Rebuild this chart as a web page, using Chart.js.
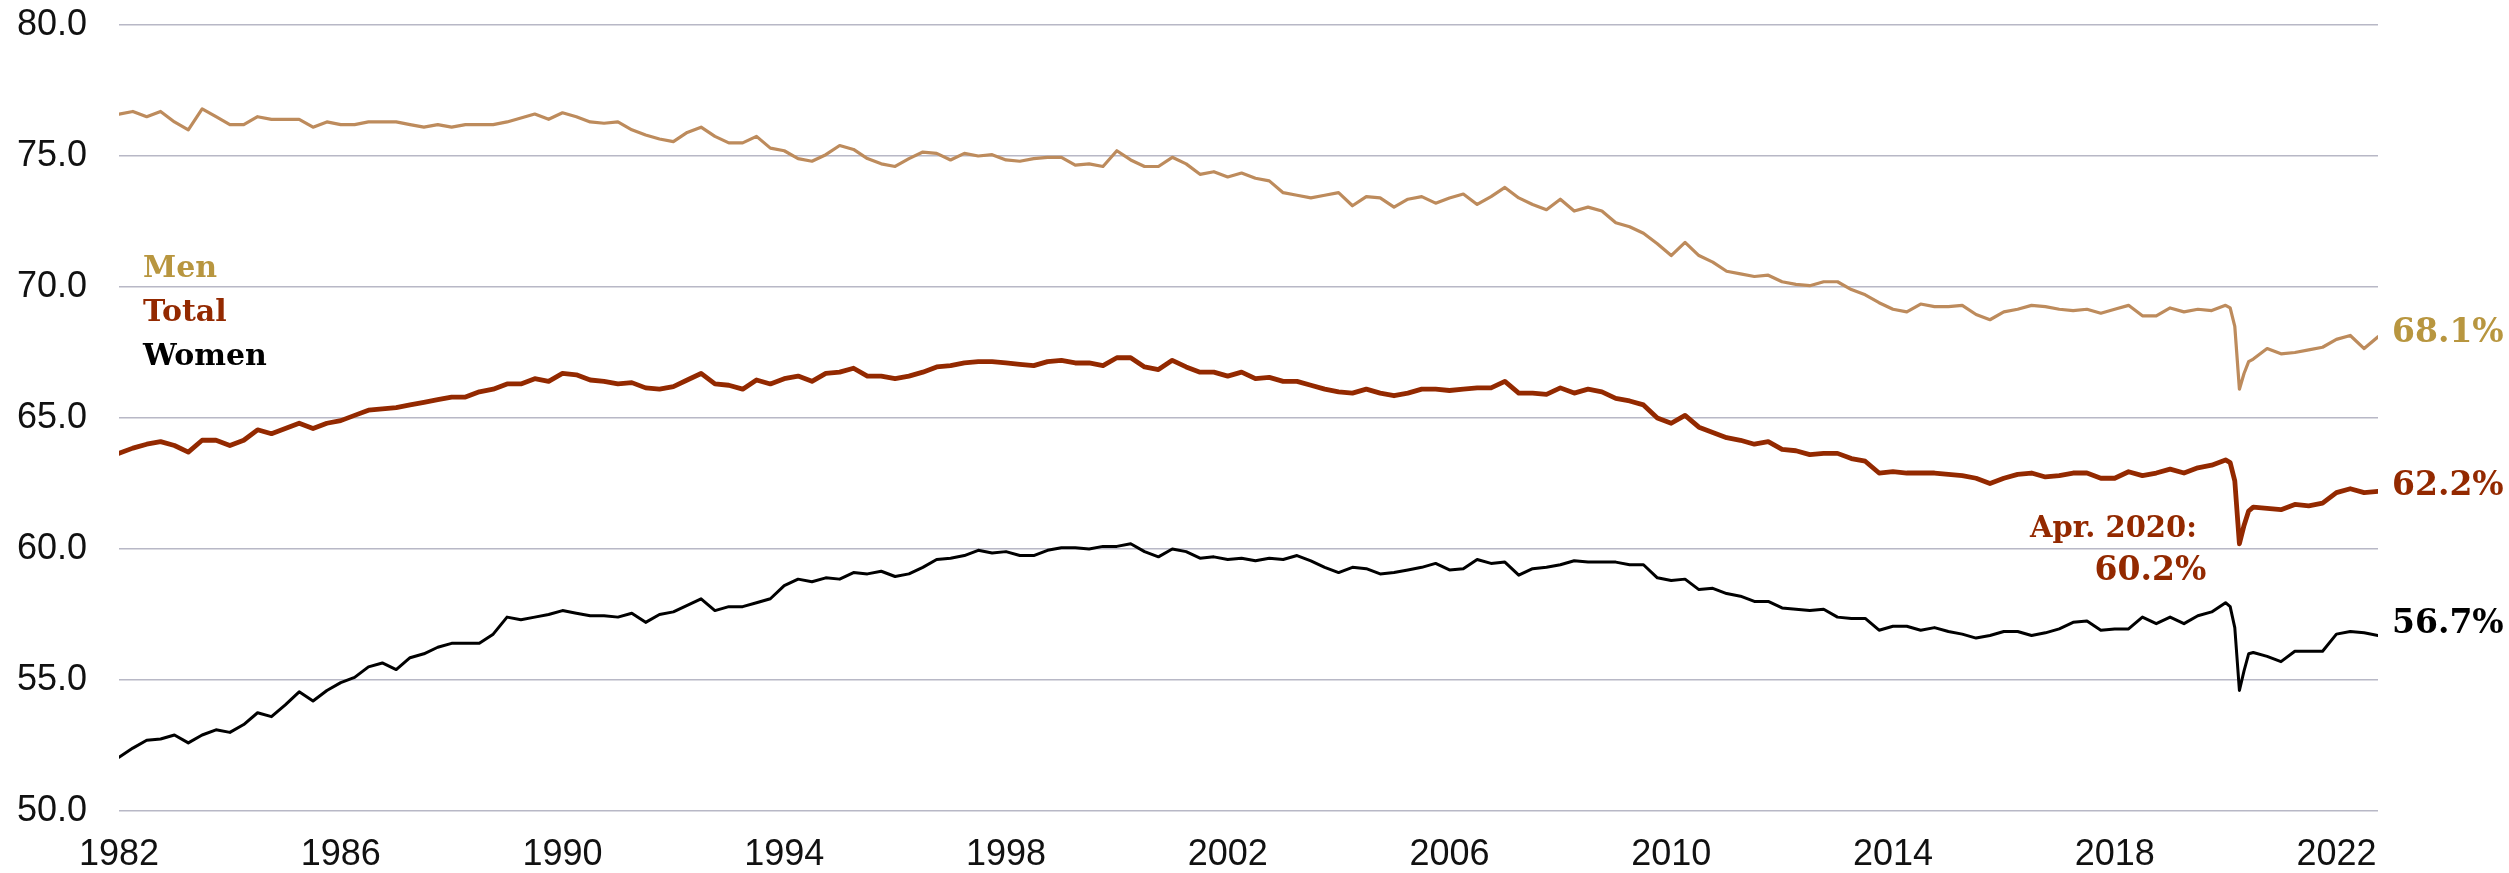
<!DOCTYPE html>
<html>
<head>
<meta charset="utf-8">
<script src="https://cdn.jsdelivr.net/npm/chart.js@4.4.1/dist/chart.umd.min.js"></script>
<style>
  html, body { margin: 0; padding: 0; background: #fff; }
  #wrap { width: 2509px; height: 873px; }
</style>
</head>
<body>
<div id="wrap"><canvas id="chart1" width="2509" height="873"></canvas></div>
<script>
'use strict';

// month index counted from Jan 1982 (0 = Jan 1982)
var monthIdx = [
  0, 3, 6, 9, 12, 15, 18, 21, 24, 27, 30, 33, 36, 39, 42, 45, 48, 51, 54, 57, 60, 63, 66, 69, 72, 75, 78, 81, 84,
  87, 90, 93, 96, 99, 102, 105, 108, 111, 114, 117, 120, 123, 126, 129, 132, 135, 138, 141, 144, 147, 150, 153, 156, 159, 162, 165, 168,
  171, 174, 177, 180, 183, 186, 189, 192, 195, 198, 201, 204, 207, 210, 213, 216, 219, 222, 225, 228, 231, 234, 237, 240, 243, 246, 249, 252,
  255, 258, 261, 264, 267, 270, 273, 276, 279, 282, 285, 288, 291, 294, 297, 300, 303, 306, 309, 312, 315, 318, 321, 324, 327, 330, 333,
  336, 339, 342, 345, 348, 351, 354, 357, 360, 363, 366, 369, 372, 375, 378, 381, 384, 387, 390, 393, 396, 399, 402, 405, 408, 411, 414,
  417, 420, 423, 426, 429, 432, 435, 438, 441, 444, 447, 450, 453, 456,
  457, 458, 459, 460, 461, 462, 465, 468, 471, 474, 477, 480, 483, 486, 489
];

var menRate = [
  76.6, 76.7, 76.5, 76.7, 76.3, 76.0, 76.8, 76.5, 76.2, 76.2, 76.5, 76.4, 76.4, 76.4, 76.1, 76.3, 76.2, 76.2, 76.3, 76.3, 76.3, 76.2, 76.1, 76.2, 76.1, 76.2, 76.2, 76.2, 76.3,
  76.45, 76.6, 76.4, 76.65, 76.5, 76.3, 76.25, 76.3, 76.0, 75.8, 75.65, 75.55, 75.9, 76.1, 75.75, 75.5, 75.5, 75.75, 75.3, 75.2, 74.9, 74.8, 75.05, 75.4, 75.25, 74.9, 74.7, 74.6,
  74.9, 75.15, 75.1, 74.85, 75.1, 75.0, 75.05, 74.85, 74.8, 74.9, 74.95, 74.95, 74.65, 74.7, 74.6, 75.2, 74.85, 74.6, 74.6, 74.95, 74.7, 74.3, 74.4, 74.2, 74.35, 74.15, 74.05, 73.6,
  73.5, 73.4, 73.5, 73.6, 73.1, 73.45, 73.4, 73.05, 73.35, 73.45, 73.2, 73.4, 73.55, 73.15, 73.45, 73.8, 73.4, 73.15, 72.95, 73.35, 72.9, 73.05, 72.9, 72.45, 72.3, 72.05, 71.65,
  71.2, 71.7, 71.2, 70.95, 70.6, 70.5, 70.4, 70.45, 70.2, 70.1, 70.05, 70.2, 70.2, 69.9, 69.7, 69.4, 69.15, 69.05, 69.35, 69.25, 69.25, 69.3, 68.95, 68.75, 69.05, 69.15, 69.3,
  69.25, 69.15, 69.1, 69.15, 69.0, 69.15, 69.3, 68.9, 68.9, 69.2, 69.05, 69.15, 69.1, 69.3,
  69.2, 68.5, 66.1, 66.7, 67.15, 67.25, 67.65, 67.45, 67.5, 67.6, 67.7, 68.0, 68.15, 67.65, 68.1
];

var totalRate = [
  63.65, 63.85, 64.0, 64.1, 63.95, 63.7, 64.15, 64.15, 63.95, 64.15, 64.55, 64.4, 64.6, 64.8, 64.6, 64.8, 64.9, 65.1, 65.3, 65.35, 65.4, 65.5, 65.6, 65.7, 65.8, 65.8, 66.0, 66.1, 66.3,
  66.3, 66.5, 66.4, 66.7, 66.65, 66.45, 66.4, 66.3, 66.35, 66.15, 66.1, 66.2, 66.45, 66.7, 66.3, 66.25, 66.1, 66.45, 66.3, 66.5, 66.6, 66.4, 66.7, 66.75, 66.9, 66.6, 66.6, 66.5,
  66.6, 66.75, 66.95, 67.0, 67.1, 67.15, 67.15, 67.1, 67.05, 67.0, 67.15, 67.2, 67.1, 67.1, 67.0, 67.3, 67.3, 66.95, 66.85, 67.2, 66.95, 66.75, 66.75, 66.6, 66.75, 66.5, 66.55, 66.4,
  66.4, 66.25, 66.1, 66.0, 65.95, 66.1, 65.95, 65.85, 65.95, 66.1, 66.1, 66.05, 66.1, 66.15, 66.15, 66.4, 65.95, 65.95, 65.9, 66.15, 65.95, 66.1, 66.0, 65.75, 65.65, 65.5, 65.0,
  64.8, 65.1, 64.65, 64.45, 64.25, 64.15, 64.0, 64.1, 63.8, 63.75, 63.6, 63.65, 63.65, 63.45, 63.35, 62.9, 62.95, 62.9, 62.9, 62.9, 62.85, 62.8, 62.7, 62.5, 62.7, 62.85, 62.9,
  62.75, 62.8, 62.9, 62.9, 62.7, 62.7, 62.95, 62.8, 62.9, 63.05, 62.9, 63.1, 63.2, 63.4,
  63.3, 62.6, 60.2, 60.9, 61.45, 61.6, 61.55, 61.5, 61.7, 61.65, 61.75, 62.15, 62.3, 62.15, 62.2
];

var womenRate = [
  52.05, 52.4, 52.7, 52.75, 52.9, 52.6, 52.9, 53.1, 53.0, 53.3, 53.75, 53.6, 54.05, 54.55, 54.2, 54.6, 54.9, 55.1, 55.5, 55.65, 55.4, 55.85, 56.0, 56.25, 56.4, 56.4, 56.4, 56.75, 57.4,
  57.3, 57.4, 57.5, 57.65, 57.55, 57.45, 57.45, 57.4, 57.55, 57.2, 57.5, 57.6, 57.85, 58.1, 57.65, 57.8, 57.8, 57.95, 58.1, 58.6, 58.85, 58.75, 58.9, 58.85, 59.1, 59.05, 59.15, 58.95,
  59.05, 59.3, 59.6, 59.65, 59.75, 59.95, 59.85, 59.9, 59.75, 59.75, 59.95, 60.05, 60.05, 60.0, 60.1, 60.1, 60.2, 59.9, 59.7, 60.0, 59.9, 59.65, 59.7, 59.6, 59.65, 59.55, 59.65, 59.6,
  59.75, 59.55, 59.3, 59.1, 59.3, 59.25, 59.05, 59.1, 59.2, 59.3, 59.45, 59.2, 59.25, 59.6, 59.45, 59.5, 59.0, 59.25, 59.3, 59.4, 59.55, 59.5, 59.5, 59.5, 59.4, 59.4, 58.9,
  58.8, 58.85, 58.45, 58.5, 58.3, 58.2, 58.0, 58.0, 57.75, 57.7, 57.65, 57.7, 57.4, 57.35, 57.35, 56.9, 57.05, 57.05, 56.9, 57.0, 56.85, 56.75, 56.6, 56.7, 56.85, 56.85, 56.7,
  56.8, 56.95, 57.2, 57.25, 56.9, 56.95, 56.95, 57.4, 57.15, 57.4, 57.15, 57.45, 57.6, 57.95,
  57.8, 57.0, 54.6, 55.35, 56.0, 56.05, 55.9, 55.7, 56.1, 56.1, 56.1, 56.75, 56.85, 56.8, 56.7
];

var seriesNames = ['Men', 'Total', 'Women'];
var yTicks = [50, 55, 60, 65, 70, 75, 80];
var firstYear = 1982;
var yearStep = 4;
var lowPointMonth = 459; // Apr. 2020

var MEN_LINE = '#bd8b5c';
var MEN_TEXT = '#b8963f';
var TOTAL_COLOR = '#932900';
var WOMEN_COLOR = '#000000';
var SERIF = '"DejaVu Serif", "Liberation Serif", serif';
var SANS = '"Liberation Sans", Arial, sans-serif';

var toPoints = function(values) {
	return monthIdx.map(function(m, i) { return { x: m, y: values[i] }; });
};

var textPlugin = {
	id: 'textPlugin',
	afterDatasetsDraw: function(chart) {
		var ctx = chart.ctx;
		var xs = chart.scales.x;
		var ys = chart.scales.y;
		var area = chart.chartArea;
		var last = monthIdx.length - 1;
		ctx.save();
		ctx.textBaseline = 'middle';

		// legend on the left
		ctx.textAlign = 'left';
		ctx.font = 'bold 30px ' + SERIF;
		ctx.fillStyle = MEN_TEXT;
		ctx.fillText(seriesNames[0], 143, 269);
		ctx.fillStyle = TOTAL_COLOR;
		ctx.fillText(seriesNames[1], 143, 313);
		ctx.fillStyle = WOMEN_COLOR;
		ctx.fillText(seriesNames[2], 143, 357);

		// end of line labels
		ctx.font = 'bold 33px ' + SERIF;
		var lx = area.right + 14;
		ctx.fillStyle = MEN_TEXT;
		ctx.fillText(menRate[last].toFixed(1) + '%', lx, ys.getPixelForValue(menRate[last]) - 3);
		ctx.fillStyle = TOTAL_COLOR;
		ctx.fillText(totalRate[last].toFixed(1) + '%', lx, ys.getPixelForValue(totalRate[last]) - 5);
		ctx.fillStyle = WOMEN_COLOR;
		ctx.fillText(womenRate[last].toFixed(1) + '%', lx, ys.getPixelForValue(womenRate[last]) - 11);

		// Apr. 2020 note
		var li = monthIdx.indexOf(lowPointMonth);
		var px = xs.getPixelForValue(lowPointMonth);
		var py = ys.getPixelForValue(totalRate[li]);
		ctx.fillStyle = TOTAL_COLOR;
		ctx.textAlign = 'center';
		ctx.font = 'bold 29px ' + SERIF;
		ctx.fillText('Apr. 2020:', px - 126, py - 14);
		ctx.font = 'bold 33px ' + SERIF;
		ctx.fillText(totalRate[li].toFixed(1) + '%', px - 89, py + 28);
		ctx.restore();
	}
};

var ctx = document.getElementById('chart1').getContext('2d');
var chart = new Chart(ctx, {
	type: 'line',
	data: {
		datasets: [{
			label: seriesNames[0],
			data: toPoints(menRate),
			borderColor: MEN_LINE,
			borderWidth: 3.2
		}, {
			label: seriesNames[1],
			data: toPoints(totalRate),
			borderColor: TOTAL_COLOR,
			borderWidth: 4.8
		}, {
			label: seriesNames[2],
			data: toPoints(womenRate),
			borderColor: WOMEN_COLOR,
			borderWidth: 3
		}]
	},
	options: {
		responsive: false,
		devicePixelRatio: 1,
		animation: false,
		layout: {
			padding: { left: 0, right: 131, top: 25, bottom: 0 }
		},
		elements: {
			point: { radius: 0 },
			line: { tension: 0, borderJoinStyle: 'round', borderCapStyle: 'round' }
		},
		plugins: {
			legend: { display: false },
			tooltip: { enabled: false }
		},
		scales: {
			x: {
				type: 'linear',
				min: monthIdx[0],
				max: monthIdx[monthIdx.length - 1],
				grid: { display: false, drawTicks: false },
				border: { display: false },
				afterFit: function(scale) {
					scale.height = 62;
					scale.paddingLeft = 0;
					scale.paddingRight = 0;
				},
				ticks: {
					stepSize: 12 * yearStep,
					includeBounds: false,
					autoSkip: false,
					maxRotation: 0,
					padding: 22,
					color: '#111',
					font: { family: SANS, size: 36 },
					callback: function(v) {
						return v % (12 * yearStep) === 0 ? String(firstYear + v / 12) : '';
					}
				}
			},
			y: {
				min: yTicks[0],
				max: yTicks[yTicks.length - 1],
				afterFit: function(scale) {
					scale.width = 119;
					scale.paddingTop = 0;
					scale.paddingBottom = 0;
				},
				grid: { color: '#b8b8c6', lineWidth: 1.5, drawTicks: false },
				border: { display: false },
				ticks: {
					stepSize: 5,
					padding: 32,
					color: '#111',
					font: { family: SANS, size: 36 },
					callback: function(v) { return v.toFixed(1); }
				}
			}
		}
	},
	plugins: [textPlugin]
});
</script>
</body>
</html>
